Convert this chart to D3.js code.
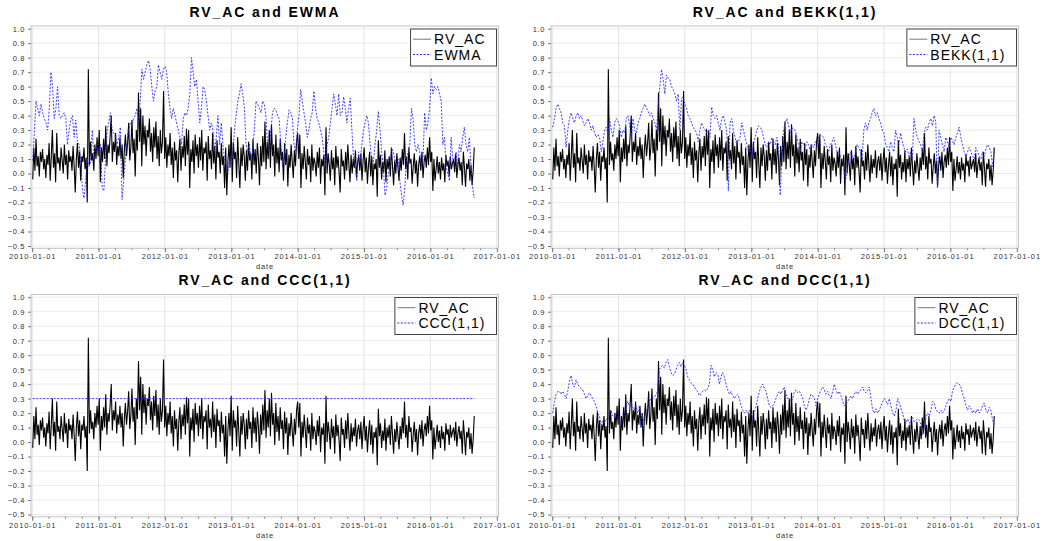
<!DOCTYPE html>
<html>
<head>
<meta charset="utf-8">
<script src="https://cdn.jsdelivr.net/npm/d3@7"></script>
<style>
body { margin: 0; background: #fff; }
text { font-family: "Liberation Sans", Arial, sans-serif; }
</style>
</head>
<body>
<script>
// DATA ------------------------------------

// first and last observation date (observations are evenly spaced between them)
const startDate = "2010-01-04"
const endDate = "2016-08-30"

// realised correlation
const rvAc = [
  -0.04, 0.18, 0.02, 0.24, 0.05, 0.12, -0.02, 0.15, 0.08, 0.17, 0.03, 0.10, -0.03, 0.13, 0.06, 0.21, -0.05, 0.12, 0.30, 0.04,
  0.14, -0.06, 0.28, 0.07, 0.11, 0.02, 0.18, 0.09, 0.00, 0.20, 0.06, 0.13, -0.04, 0.16, 0.08, 0.12, 0.02, 0.19, 0.05, -0.13,
  0.10, 0.21, 0.04, 0.15, -0.05, 0.12, 0.08, 0.18, 0.03, 0.11, -0.20, 0.72, 0.06, 0.22, 0.09, 0.14, 0.02, 0.20, 0.10, 0.25,
  0.12, 0.30, -0.06, 0.18, 0.08, 0.24, 0.10, 0.33, 0.05, 0.20, 0.14, 0.26, 0.40, 0.08, 0.22, 0.15, 0.28, 0.06, 0.19, 0.12,
  0.25, 0.10, 0.20, -0.03, 0.16, 0.27, 0.12, 0.21, 0.35, 0.09, 0.18, 0.37, 0.14, 0.24, -0.02, 0.30, 0.16, 0.56, 0.22, 0.45,
  0.05, 0.40, 0.20, 0.33, 0.12, 0.30, 0.25, 0.38, 0.15, 0.28, 0.08, 0.32, 0.18, 0.36, 0.10, 0.26, 0.05, 0.30, 0.14, 0.22,
  0.57, 0.10, 0.25, 0.04, 0.20, 0.12, 0.28, 0.06, 0.18, -0.03, 0.22, 0.09, 0.16, -0.06, 0.14, 0.24, 0.02, 0.19, 0.11, 0.26,
  0.05, 0.31, 0.13, 0.30, -0.10, 0.17, 0.08, 0.23, 0.00, 0.27, 0.12, 0.20, 0.04, 0.25, 0.09, 0.30, 0.02, 0.18, 0.14, 0.22,
  -0.05, 0.26, 0.10, 0.16, 0.03, 0.28, 0.07, 0.19, -0.04, 0.23, 0.11, 0.15, 0.00, 0.21, 0.06, 0.12, -0.10, 0.18, -0.15, 0.08,
  0.20, 0.04, 0.32, -0.06, 0.22, 0.10, 0.15, -0.03, 0.25, 0.07, -0.10, 0.18, 0.05, 0.20, 0.12, -0.05, 0.16, 0.02, 0.22, 0.09,
  0.14, -0.04, 0.24, 0.06, 0.17, 0.00, 0.21, 0.11, -0.08, 0.19, 0.05, 0.26, 0.08, 0.36, 0.03, 0.22, 0.10, 0.30, 0.04, 0.34,
  0.12, 0.20, -0.02, 0.27, 0.07, 0.18, 0.01, 0.24, 0.09, 0.15, -0.05, 0.21, 0.06, 0.17, -0.09, 0.13, 0.04, 0.20, 0.08, -0.03,
  0.16, 0.05, 0.22, 0.28, 0.10, 0.27, -0.10, 0.14, 0.03, 0.19, 0.08, -0.04, 0.17, 0.06, 0.12, -0.06, 0.20, 0.02, 0.11, 0.07,
  -0.02, 0.15, 0.04, 0.18, -0.07, 0.10, 0.05, 0.13, -0.15, 0.32, 0.00, 0.14, 0.06, -0.05, 0.16, 0.03, 0.11, -0.08, 0.19, 0.04,
  0.12, 0.01, -0.13, 0.17, 0.05, 0.09, -0.04, 0.15, 0.02, 0.20, 0.06, -0.06, 0.13, 0.00, 0.10, 0.04, 0.16, -0.03, 0.08, 0.12,
  0.02, 0.14, -0.05, 0.09, 0.18, 0.01, 0.11, -0.07, 0.06, 0.15, -0.02, 0.12, -0.08, 0.07, 0.03, 0.10, -0.16, 0.23, 0.04, 0.13,
  -0.04, 0.08, 0.01, 0.16, -0.06, 0.10, 0.03, 0.12, -0.02, 0.18, 0.05, -0.08, 0.09, 0.00, 0.14, 0.04, -0.05, 0.11, 0.02, 0.17,
  0.06, 0.28, 0.03, 0.12, -0.04, 0.18, 0.07, 0.10, -0.07, 0.05, 0.14, 0.00, 0.09, -0.09, 0.06, 0.12, 0.02, 0.15, -0.03, 0.08,
  0.13, 0.04, 0.18, 0.06, 0.25, 0.08, 0.15, -0.12, 0.10, -0.05, 0.03, 0.12, 0.00, 0.08, -0.04, 0.11, 0.02, 0.07, -0.06, 0.13,
  0.05, 0.09, -0.02, 0.12, 0.03, 0.07, 0.10, 0.01, 0.14, -0.03, 0.06, 0.11, 0.02, 0.08, -0.08, 0.15, 0.04, -0.09, 0.07, 0.03,
  0.10, -0.05, 0.06, -0.08, 0.02, 0.18
]

const ewma = [
  0.09, 0.30, 0.50, 0.45, 0.40, 0.48, 0.42, 0.38, 0.35, 0.30, 0.45, 0.70, 0.60, 0.38, 0.45, 0.60, 0.40, 0.38, 0.40, 0.42,
  0.38, 0.20, 0.30, 0.37, 0.40, 0.25, 0.37, 0.22, 0.20, 0.10, -0.10, -0.17, -0.05, 0.10, 0.05, 0.08, 0.30, 0.10, 0.15, 0.20,
  0.15, 0.20, -0.10, -0.12, 0.10, 0.30, 0.35, 0.42, 0.30, 0.28, 0.25, 0.20, 0.25, 0.32, -0.18, -0.05, 0.10, 0.22, 0.30, 0.35,
  0.33, 0.38, 0.40, 0.45, 0.35, 0.50, 0.72, 0.65, 0.70, 0.75, 0.78, 0.72, 0.60, 0.50, 0.57, 0.60, 0.75, 0.70, 0.65, 0.72,
  0.74, 0.70, 0.55, 0.45, 0.38, 0.45, 0.40, 0.35, 0.30, 0.25, 0.20, 0.38, 0.42, 0.40, 0.45, 0.55, 0.80, 0.70, 0.60, 0.65,
  0.50, 0.35, 0.45, 0.60, 0.58, 0.50, 0.40, 0.30, 0.35, 0.30, 0.15, 0.25, 0.40, 0.20, 0.35, 0.20, 0.10, 0.05, 0.00, 0.10,
  0.05, 0.15, 0.30, 0.40, 0.50, 0.55, 0.62, 0.55, 0.45, 0.20, 0.15, 0.20, 0.10, 0.15, 0.30, 0.50, 0.48, 0.45, 0.42, 0.50,
  0.48, 0.40, 0.20, 0.15, 0.30, 0.42, 0.45, 0.44, 0.40, 0.38, 0.20, 0.05, 0.10, 0.25, 0.35, 0.44, 0.42, 0.38, 0.20, 0.15,
  0.30, 0.40, 0.58, 0.50, 0.42, 0.35, 0.25, 0.30, 0.38, 0.42, 0.57, 0.45, 0.38, 0.35, 0.30, 0.25, 0.15, 0.05, 0.20, 0.25,
  0.35, 0.45, 0.55, 0.48, 0.40, 0.55, 0.40, 0.42, 0.53, 0.45, 0.35, 0.45, 0.52, 0.30, 0.10, 0.05, -0.05, 0.15, 0.08, 0.20,
  0.30, 0.35, 0.40, 0.35, 0.20, 0.10, 0.08, 0.20, 0.30, 0.43, 0.30, 0.15, 0.05, -0.15, -0.10, 0.00, 0.05, 0.18, 0.15, 0.10,
  0.05, 0.10, -0.05, -0.15, -0.22, -0.10, 0.10, 0.15, 0.20, 0.45, 0.38, 0.20, 0.15, 0.20, 0.15, 0.05, 0.10, 0.42, 0.30, 0.35,
  0.45, 0.66, 0.55, 0.60, 0.58, 0.60, 0.55, 0.50, 0.20, 0.25, 0.05, 0.00, -0.05, 0.25, 0.10, 0.10, 0.15, 0.05, 0.20, 0.15,
  0.25, 0.32, 0.20, 0.15, 0.25, 0.05, -0.10, -0.17
]

const bekk = [
  0.32, 0.38, 0.45, 0.48, 0.45, 0.42, 0.35, 0.33, 0.18, 0.30, 0.38, 0.42, 0.38, 0.35, 0.40, 0.42, 0.38, 0.40, 0.36, 0.33,
  0.35, 0.38, 0.35, 0.30, 0.33, 0.28, 0.25, 0.27, 0.25, 0.15, 0.22, 0.30, 0.32, 0.28, 0.38, 0.30, 0.25, 0.35, 0.38, 0.36,
  0.33, 0.25, 0.30, 0.28, 0.38, 0.40, 0.33, 0.25, 0.38, 0.30, 0.28, 0.35, 0.38, 0.42, 0.45, 0.48, 0.45, 0.43, 0.40, 0.42,
  0.38, 0.35, 0.30, 0.45, 0.60, 0.72, 0.65, 0.55, 0.68, 0.66, 0.65, 0.60, 0.58, 0.55, 0.50, 0.55, 0.30, 0.52, 0.53, 0.48,
  0.45, 0.40, 0.38, 0.35, 0.32, 0.30, 0.28, 0.22, 0.30, 0.35, 0.32, 0.30, 0.28, 0.30, 0.25, 0.46, 0.40, 0.38, 0.40, 0.35,
  0.30, 0.38, 0.40, 0.35, 0.30, -0.12, 0.35, 0.38, 0.30, 0.25, 0.20, 0.22, 0.25, 0.35, 0.30, 0.25, 0.20, 0.15, 0.18, 0.10,
  0.20, 0.25, 0.30, 0.33, 0.32, 0.30, 0.25, 0.20, 0.18, 0.22, 0.20, 0.25, 0.22, 0.20, 0.25, 0.20, -0.15, 0.10, 0.30, 0.35,
  0.38, 0.33, 0.28, 0.32, 0.30, 0.30, 0.25, 0.20, 0.15, 0.22, 0.20, 0.18, 0.22, 0.20, 0.15, 0.20, 0.18, 0.22, 0.20, 0.25,
  0.27, 0.26, 0.25, 0.20, 0.18, 0.15, 0.20, 0.22, 0.25, 0.20, 0.15, 0.15, 0.12, 0.10, 0.05, -0.05, 0.00, 0.10, 0.15, 0.12,
  0.10, 0.15, 0.20, 0.18, 0.15, 0.10, 0.30, 0.35, 0.30, 0.35, 0.38, 0.42, 0.45, 0.40, 0.42, 0.38, 0.35, 0.30, 0.28, 0.20,
  0.18, 0.15, 0.22, 0.18, 0.15, 0.30, 0.25, 0.20, 0.28, 0.22, 0.18, 0.15, 0.17, 0.12, 0.15, 0.10, 0.38, 0.30, 0.25, 0.22,
  0.20, 0.15, 0.28, 0.32, 0.30, 0.35, 0.38, 0.33, 0.40, 0.36, -0.10, 0.30, 0.25, 0.20, 0.15, 0.25, 0.22, 0.18, 0.25, 0.23,
  0.20, 0.25, 0.28, 0.32, 0.25, 0.20, 0.15, 0.12, 0.15, 0.18, 0.15, 0.12, 0.10, 0.18, 0.15, 0.12, 0.10, 0.15, 0.12, 0.17,
  0.20, 0.18, 0.15, 0.05, 0.18
]

// constant correlation model: flat over the whole sample
const ccc = [0.30, 0.30]

const dcc = [
  0.20, 0.28, 0.33, 0.35, 0.35, 0.33, 0.35, 0.33, 0.30, 0.35, 0.42, 0.46, 0.40, 0.38, 0.43, 0.40, 0.38, 0.37, 0.36, 0.33,
  0.30, 0.32, 0.34, 0.32, 0.30, 0.28, 0.25, 0.20, 0.18, 0.12, 0.15, 0.13, 0.16, 0.15, 0.20, 0.22, 0.18, 0.17, 0.20, 0.22,
  0.15, 0.12, 0.15, 0.20, 0.23, 0.28, 0.25, 0.27, 0.24, 0.22, 0.25, 0.20, 0.25, 0.10, 0.12, 0.18, 0.20, 0.25, 0.28, 0.30,
  0.30, 0.31, 0.33, 0.35, 0.50, 0.52, 0.53, 0.51, 0.55, 0.57, 0.52, 0.48, 0.46, 0.47, 0.50, 0.53, 0.55, 0.52, 0.55, 0.53,
  0.50, 0.45, 0.43, 0.41, 0.40, 0.38, 0.36, 0.35, 0.32, 0.33, 0.35, 0.36, 0.35, 0.37, 0.40, 0.53, 0.50, 0.45, 0.48, 0.47,
  0.40, 0.45, 0.48, 0.45, 0.40, 0.36, 0.33, 0.35, 0.32, 0.30, 0.32, 0.33, 0.30, 0.25, 0.22, 0.20, 0.22, 0.20, 0.22, 0.20,
  0.17, 0.20, 0.25, 0.30, 0.35, 0.38, 0.40, 0.37, 0.35, 0.30, 0.25, 0.24, 0.25, 0.27, 0.30, 0.33, 0.35, 0.33, 0.36, 0.38,
  0.33, 0.30, 0.30, 0.28, 0.30, 0.35, 0.36, 0.34, 0.35, 0.33, 0.30, 0.25, 0.22, 0.25, 0.30, 0.33, 0.32, 0.30, 0.25, 0.30,
  0.33, 0.36, 0.38, 0.36, 0.33, 0.35, 0.32, 0.30, 0.35, 0.40, 0.36, 0.33, 0.35, 0.32, 0.28, 0.25, 0.26, 0.28, 0.30, 0.32,
  0.30, 0.33, 0.35, 0.33, 0.35, 0.36, 0.38, 0.35, 0.34, 0.36, 0.38, 0.30, 0.22, 0.20, 0.23, 0.20, 0.22, 0.25, 0.28, 0.30,
  0.28, 0.26, 0.30, 0.25, 0.20, 0.18, 0.22, 0.30, 0.27, 0.23, 0.20, 0.15, 0.13, 0.16, 0.13, 0.15, 0.17, 0.14, 0.15, 0.16,
  0.15, 0.12, 0.05, 0.10, 0.17, 0.20, 0.18, 0.22, 0.28, 0.27, 0.22, 0.21, 0.20, 0.22, 0.20, 0.22, 0.25, 0.28, 0.30, 0.28,
  0.36, 0.38, 0.40, 0.41, 0.40, 0.38, 0.33, 0.30, 0.25, 0.22, 0.25, 0.23, 0.20, 0.22, 0.20, 0.23, 0.20, 0.22, 0.25, 0.27,
  0.22, 0.20, 0.24, 0.22, 0.15, 0.12
]

// axis ticks
const yTicks = [1.0, 0.9, 0.8, 0.7, 0.6, 0.5, 0.4, 0.3, 0.2, 0.1, 0.0, -0.1, -0.2, -0.3, -0.4, -0.5]
const xTicks = ["2010-01-01", "2011-01-01", "2012-01-01", "2013-01-01", "2014-01-01", "2015-01-01", "2016-01-01", "2017-01-01"]

const modelNames = ["EWMA", "BEKK(1,1)", "CCC(1,1)", "DCC(1,1)"]
const modelValues = [ewma, bekk, ccc, dcc]

// CHART INIT ------------------------------
const W = 1042, H = 541
const parse = d3.utcParse("%Y-%m-%d")
const t0 = parse(startDate), t1 = parse(endDate)

// spread a list of observations evenly over the sample period
const toSeries = vals => vals.map((v, i) => ({
    date: new Date(+t0 + (t1 - t0) * i / (vals.length - 1)),
    value: v
}))

const rvSeries = toSeries(rvAc)

// panel grid (top-left, top-right, bottom-left, bottom-right)
const panelOrigins = [[0, 0], [520, 0], [0, 268.5], [520, 268.5]]
const frame = {left: 31, right: 498.5, top: 26, bottom: 248.3}

const svg = d3.select("body").append("svg")
    .attr("width", W)
    .attr("height", H)

svg.append("rect").attr("width", W).attr("height", H).attr("fill", "#fff")

const xScale = d3.scaleUtc()
    .domain([parse(xTicks[0]), parse(xTicks[xTicks.length - 1])])
    .range([32.2, 496.8])

const yScale = d3.scaleLinear()
    .domain([-0.5, 1.0])
    .range([246, 28.7])

const line = d3.line()
    .x(d => xScale(d.date))
    .y(d => yScale(d.value))

svg.append("defs").append("clipPath")
    .attr("id", "plot-clip")
  .append("rect")
    .attr("x", frame.left)
    .attr("y", frame.top)
    .attr("width", frame.right - frame.left)
    .attr("height", frame.bottom - frame.top)

modelNames.forEach((name, k) => {
    const [ox, oy] = panelOrigins[k]
    const g = svg.append("g").attr("transform", `translate(${ox},${oy})`)

    // title
    g.append("text")
        .attr("x", 265)
        .attr("y", 16.7)
        .attr("text-anchor", "middle")
        .style("font-size", "14px")
        .style("font-weight", "bold")
        .style("letter-spacing", "1.9px")
        .text(`RV_AC and ${name}`)

    // grid
    g.append("g").selectAll("line")
        .data(yTicks)
        .join("line")
            .attr("x1", frame.left).attr("x2", frame.right)
            .attr("y1", d => yScale(d)).attr("y2", d => yScale(d))
            .attr("stroke", "#ececec")
    g.append("g").selectAll("line")
        .data(xTicks.map(parse))
        .join("line")
            .attr("x1", d => xScale(d)).attr("x2", d => xScale(d))
            .attr("y1", frame.top).attr("y2", frame.bottom)
            .attr("stroke", "#e4e4e4")

    // frame
    g.append("rect")
        .attr("x", frame.left).attr("y", frame.top)
        .attr("width", frame.right - frame.left)
        .attr("height", frame.bottom - frame.top)
        .attr("fill", "none")
        .attr("stroke", "#c4c4c4")

    // axes
    const yAx = d3.axisLeft(yScale)
        .tickValues(yTicks)
        .tickSize(3)
        .tickFormat(d3.format(".1f"))
    g.append("g")
        .attr("transform", `translate(${frame.left},0)`)
        .call(yAx)
        .call(a => a.select(".domain").remove())
        .call(a => a.selectAll(".tick line").attr("stroke", "#777"))
        .call(a => a.selectAll(".tick text")
            .attr("fill", "#333")
            .style("font-size", "7.5px")
            .style("font-family", "'Liberation Sans', Arial, sans-serif")
            .style("letter-spacing", "0.6px"))

    const xMinor = d3.axisBottom(xScale)
        .tickValues(d3.utcMonth.every(3).range(parse(xTicks[0]), parse(xTicks[xTicks.length - 1])))
        .tickSize(2)
        .tickFormat("")
    g.append("g")
        .attr("transform", `translate(0,${frame.bottom})`)
        .call(xMinor)
        .call(a => a.select(".domain").remove())
        .call(a => a.selectAll(".tick line").attr("stroke", "#888"))

    const xAx = d3.axisBottom(xScale)
        .tickValues(xTicks.map(parse))
        .tickSize(4)
        .tickFormat(d3.utcFormat("%Y-%m-%d"))
    g.append("g")
        .attr("transform", `translate(0,${frame.bottom})`)
        .call(xAx)
        .call(a => a.select(".domain").remove())
        .call(a => a.selectAll(".tick line").attr("stroke", "#777"))
        .call(a => a.selectAll(".tick text")
            .attr("fill", "#333")
            .attr("dy", "0.5em")
            .style("font-size", "7.5px")
            .style("font-family", "'Liberation Sans', Arial, sans-serif")
            .style("letter-spacing", "0.9px"))

    g.append("text")
        .attr("x", 265)
        .attr("y", 269)
        .attr("text-anchor", "middle")
        .attr("fill", "#333")
        .style("font-size", "7.5px")
        .style("letter-spacing", "0.8px")
        .text("date")

    // series
    const plot = g.append("g").attr("clip-path", "url(#plot-clip)")
    plot.append("path")
        .datum(rvSeries)
        .attr("d", line)
        .attr("fill", "none")
        .attr("stroke", "#000")
        .attr("stroke-width", 1.1)
    plot.append("path")
        .datum(toSeries(modelValues[k]))
        .attr("d", line)
        .attr("fill", "none")
        .attr("stroke", "#2b2bff")
        .attr("stroke-width", 0.9)
        .attr("stroke-dasharray", "2,1.5")

    // legend
    const leg = g.append("g")
    const labels = ["RV_AC", name]
    const texts = leg.selectAll("text")
        .data(labels)
        .join("text")
            .attr("y", (d, i) => 44 + i * 15.5)
            .style("font-size", "14px")
            .style("letter-spacing", "1px")
            .text(d => d)
    const textW = d3.max(texts.nodes(), n => n.getComputedTextLength())
    const boxW = 23.5 + textW + 11
    const boxX = frame.right - 2 - boxW
    texts.attr("x", boxX + 23.5)
    leg.insert("rect", "text")
        .attr("x", boxX).attr("y", 29)
        .attr("width", boxW).attr("height", 37)
        .attr("fill", "#fff")
        .attr("stroke", "#444")
    leg.append("line")
        .attr("x1", boxX + 2.5).attr("x2", boxX + 20.5)
        .attr("y1", 39.2).attr("y2", 39.2)
        .attr("stroke", "#777")
    leg.append("line")
        .attr("x1", boxX + 2.5).attr("x2", boxX + 20.5)
        .attr("y1", 54.5).attr("y2", 54.5)
        .attr("stroke", "#2b2bff")
        .attr("stroke-dasharray", "2,1.5")
})
</script>
</body>
</html>
